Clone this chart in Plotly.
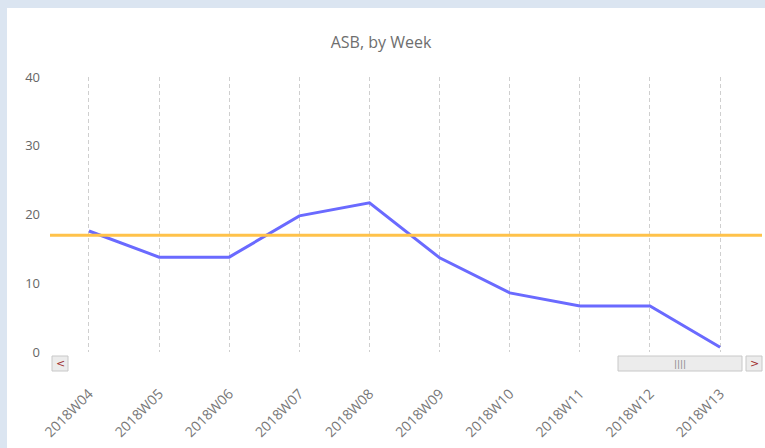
import plotly.graph_objects as go

weeks = ["2018W04", "2018W05", "2018W06", "2018W07", "2018W08",
         "2018W09", "2018W10", "2018W11", "2018W12", "2018W13"]
asb = [17.6, 13.8, 13.8, 19.8, 21.7, 13.7, 8.6, 6.7, 6.7, 0.7]
target = 17.0
y_ticks = [0, 10, 20, 30, 40]

L, R, T, B = 50, 0, 77, 96
W, H = 765, 448
pw, ph = W - L - R, H - T - B


def px(x):
    return (x - L) / pw


def py(y):
    return (H - B - y) / ph


fig = go.Figure()
fig.add_trace(go.Scatter(x=list(range(len(weeks))), y=asb, mode="lines",
                         line=dict(color="#6a6aff", width=3), hoverinfo="skip"))

shapes = [
    dict(type="rect", xref="paper", yref="paper", x0=px(7), x1=px(W + 5),
         y0=py(H + 5), y1=py(8), fillcolor="white", line=dict(width=0), layer="below"),
    dict(type="line", xref="paper", yref="y", x0=0, x1=px(762), y0=target, y1=target,
         line=dict(color="#ffc24a", width=3)),
    # scrollbar pieces
    dict(type="rect", xref="paper", yref="paper", x0=px(52), x1=px(68), y0=py(371), y1=py(356),
         fillcolor="#ececec", line=dict(color="#c8c8c8", width=1)),
    dict(type="rect", xref="paper", yref="paper", x0=px(618), x1=px(742), y0=py(371), y1=py(356),
         fillcolor="#ececec", line=dict(color="#c8c8c8", width=1)),
    dict(type="rect", xref="paper", yref="paper", x0=px(746), x1=px(762), y0=py(371), y1=py(356),
         fillcolor="#ececec", line=dict(color="#c8c8c8", width=1)),
]

annotations = [
    dict(text="<", xref="paper", yref="paper", x=px(60), y=py(363.5), showarrow=False,
         xanchor="center", yanchor="middle",
         font=dict(size=11, color="#a03030", family="DejaVu Sans")),
    dict(text=">", xref="paper", yref="paper", x=px(754), y=py(363.5), showarrow=False,
         xanchor="center", yanchor="middle",
         font=dict(size=11, color="#a03030", family="DejaVu Sans")),
    dict(text="||||", xref="paper", yref="paper", x=px(680), y=py(363.5), showarrow=False,
         xanchor="center", yanchor="middle",
         font=dict(size=9, color="#8a8a8a", family="DejaVu Sans")),
]

fig.update_layout(
    width=W, height=H,
    margin=dict(l=L, r=R, t=T, b=B),
    paper_bgcolor="#dbe5f1",
    plot_bgcolor="rgba(0,0,0,0)",
    showlegend=False,
    title=dict(text="ASB, by Week", xref="container", x=381 / W, xanchor="center",
               y=1 - 42 / H, yanchor="middle",
               font=dict(family="Open Sans", size=16, color="#6e6e6e")),
    xaxis=dict(range=[-0.556, 9.64], tickmode="array", tickvals=list(range(len(weeks))),
               ticktext=weeks, tickangle=-45, showgrid=True, gridcolor="#cfcfcf",
               griddash="4px,3px", gridwidth=1, zeroline=False, showline=False,
               ticklabelstandoff=30,
               tickfont=dict(family="Open Sans", size=14, color="#777777")),
    yaxis=dict(range=[0, 40], tickvals=y_ticks, showgrid=False, zeroline=False,
               showline=False, ticklabelstandoff=9,
               tickfont=dict(family="Open Sans", size=13, color="#666666")),
    shapes=shapes,
    annotations=annotations,
)

fig.write_html("out.html", config={"displayModeBar": False},
               post_script="document.body.style.margin='0';document.body.style.background='#dbe5f1';")
